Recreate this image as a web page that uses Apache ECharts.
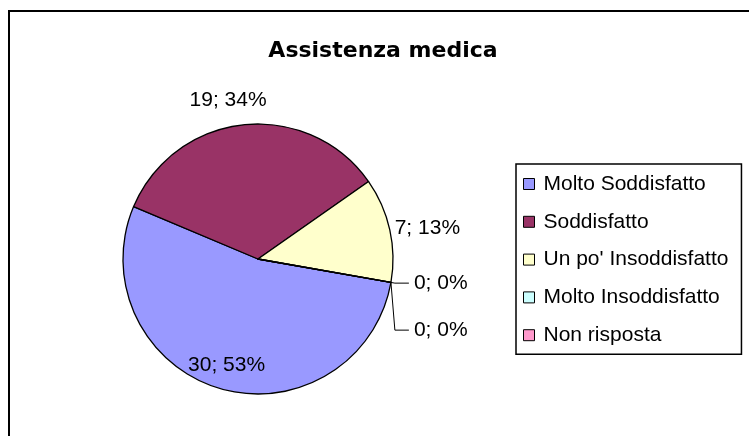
<!DOCTYPE html>
<html>
<head>
<meta charset="utf-8">
<script src="https://cdn.jsdelivr.net/npm/echarts@6/dist/echarts.min.js"></script>
<style>
  html, body { margin: 0; padding: 0; background: #fff; }
  #chart { width: 749px; height: 436px; }
</style>
</head>
<body>
<div id="chart"></div>
<script>
/* Assistenza medica - pie */

const categories = ['Molto Soddisfatto', 'Soddisfatto', "Un po' Insoddisfatto", 'Molto Insoddisfatto', 'Non risposta'];
const counts = [30, 19, 7, 0, 0];
const percentLabels = [53, 34, 13, 0, 0];

const sliceColors = ['#9999FF', '#993366', '#FFFFCC', '#CCFFFF', '#FF99CC'];

const FONT = '"Liberation Sans", Arial, sans-serif';

// label placement per slice (styling only)
const labelLines = [
    { show: false, length: -24, length2: 0 },
    { show: false, length: 25, length2: 0 },
    { show: false, length: 5, length2: 0 },
    { show: true, length: 4, length2: 14 },
    { show: true, length: 4, length2: 14 }
];

const chart = echarts.init(document.getElementById('chart'));

const seriesData = categories.map((name, i) => {

    const zero = counts[i] === 0;

    return {
        name: name,
        value: counts[i],
        itemStyle: { color: sliceColors[i] },
        label: {
            distanceToLabelLine: zero ? 5 : 0,
            alignTo: zero ? 'labelLine' : 'none',
            lineHeight: zero ? 45 : 24
        },
        labelLine: labelLines[i]
    };

});

const option = {

    backgroundColor: '#fff',
    animation: false,

    graphic: [{
        type: 'rect',
        shape: { x: 9, y: 11, width: 780, height: 460 },
        style: { fill: 'none', stroke: '#000', lineWidth: 2 },
        silent: true
    }],

    title: {
        text: 'Assistenza medica',
        left: 383,
        top: 40,
        textAlign: 'center',
        padding: 0,
        textStyle: {
            fontFamily: '"DejaVu Sans", sans-serif',
            fontWeight: 'bold',
            fontSize: 22,
            color: '#000'
        }
    },

    legend: {
        orient: 'vertical',
        left: 516,
        top: 164,
        padding: [8, 13, 7, 7],
        borderColor: '#000',
        borderWidth: 1.5,
        itemWidth: 11,
        itemHeight: 11,
        itemGap: 13.8,
        icon: 'rect',
        itemStyle: { borderColor: '#000', borderWidth: 1 },
        data: categories,
        textStyle: {
            fontFamily: FONT,
            fontSize: 21,
            lineHeight: 24,
            color: '#000',
            padding: [0, 0, 0, 4]
        }
    },

    series: [{
        type: 'pie',
        center: [258, 259],
        radius: 135,
        startAngle: 350,
        clockwise: true,
        avoidLabelOverlap: true,
        itemStyle: {
            borderColor: '#000',
            borderWidth: 1.3
        },
        label: {
            show: true,
            position: 'outside',
            fontFamily: FONT,
            fontSize: 21,
            color: '#000',
            formatter: function (p) {
                return p.value + '; ' + percentLabels[p.dataIndex] + '%';
            }
        },
        labelLine: {
            lineStyle: { color: '#000', width: 1 }
        },
        labelLayout: function (params) {
            if (params.dataIndex === 0) return { align: 'center' };
            if (params.dataIndex === 1) return { align: 'center', dx: -13 };
        },
        emphasis: { disabled: true },
        data: seriesData
    }]

};

chart.setOption(option);

</script>
</body>
</html>
